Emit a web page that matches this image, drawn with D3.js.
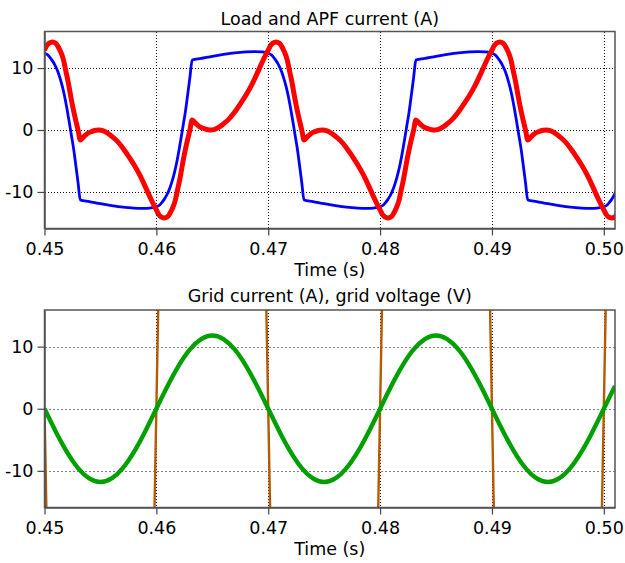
<!DOCTYPE html>
<html>
<head>
<meta charset="utf-8">
<script src="https://cdn.jsdelivr.net/npm/d3@7/dist/d3.min.js"></script>
<style>
  html, body { margin: 0; padding: 0; background: #fff; }
  svg { display: block; font-family: "DejaVu Sans", Verdana, sans-serif; }
</style>
</head>
<body>
<svg id="chart" width="625" height="563"></svg>
<script>
// ---- Data ---------------------------------------------------------------
const xTicks = [0.45, 0.46, 0.47, 0.48, 0.49, 0.50];
const yTicks = [-10, 0, 10];
const xLabel = "Time (s)";
const topTitle = "Load and APF current (A)";
const bottomTitle = "Grid current (A), grid voltage (V)";

// Load current (A): [time s, current]
const loadCurrent = [
  [0.4500,12.4],[0.4503,12.1],[0.4505,11.7],[0.4507,11.2],[0.4509,10.6],[0.4512,9.4],[0.4514,8.3],[0.4516,7.0],
  [0.4518,5.4],[0.4520,3.5],[0.4522,1.4],[0.4524,-0.8],[0.4526,-3.0],[0.4528,-5.7],[0.4530,-8.5],[0.4532,-11.3],
  [0.4540,-11.55],[0.4550,-11.9],[0.4560,-12.2],[0.4570,-12.45],[0.4580,-12.6],[0.4588,-12.65],[0.4594,-12.6],[0.4598,-12.5],
  [0.4600,-12.4],[0.4603,-12.1],[0.4605,-11.7],[0.4607,-11.2],[0.4609,-10.6],[0.4612,-9.4],[0.4614,-8.3],[0.4616,-7.0],
  [0.4618,-5.4],[0.4620,-3.5],[0.4622,-1.4],[0.4624,0.8],[0.4626,3.0],[0.4628,5.7],[0.4630,8.5],[0.4632,11.3],
  [0.4640,11.55],[0.4650,11.9],[0.4660,12.2],[0.4670,12.45],[0.4680,12.6],[0.4688,12.65],[0.4694,12.6],[0.4698,12.5],
  [0.4700,12.4],[0.4703,12.1],[0.4705,11.7],[0.4707,11.2],[0.4709,10.6],[0.4712,9.4],[0.4714,8.3],[0.4716,7.0],
  [0.4718,5.4],[0.4720,3.5],[0.4722,1.4],[0.4724,-0.8],[0.4726,-3.0],[0.4728,-5.7],[0.4730,-8.5],[0.4732,-11.3],
  [0.4740,-11.55],[0.4750,-11.9],[0.4760,-12.2],[0.4770,-12.45],[0.4780,-12.6],[0.4788,-12.65],[0.4794,-12.6],[0.4798,-12.5],
  [0.4800,-12.4],[0.4803,-12.1],[0.4805,-11.7],[0.4807,-11.2],[0.4809,-10.6],[0.4812,-9.4],[0.4814,-8.3],[0.4816,-7.0],
  [0.4818,-5.4],[0.4820,-3.5],[0.4822,-1.4],[0.4824,0.8],[0.4826,3.0],[0.4828,5.7],[0.4830,8.5],[0.4832,11.3],
  [0.4840,11.55],[0.4850,11.9],[0.4860,12.2],[0.4870,12.45],[0.4880,12.6],[0.4888,12.65],[0.4894,12.6],[0.4898,12.5],
  [0.4900,12.4],[0.4903,12.1],[0.4905,11.7],[0.4907,11.2],[0.4909,10.6],[0.4912,9.4],[0.4914,8.3],[0.4916,7.0],
  [0.4918,5.4],[0.4920,3.5],[0.4922,1.4],[0.4924,-0.8],[0.4926,-3.0],[0.4928,-5.7],[0.4930,-8.5],[0.4932,-11.3],
  [0.4940,-11.55],[0.4950,-11.9],[0.4960,-12.2],[0.4970,-12.45],[0.4980,-12.6],[0.4988,-12.65],[0.4994,-12.6],[0.4998,-12.5],
  [0.5000,-12.4],[0.5003,-12.1],[0.5005,-11.7],[0.5007,-11.2],[0.5009,-10.6],[0.5012,-9.4]
];

// APF (active power filter) current (A): [time s, current]
const apfCurrent = [
  [0.4500,12.9],[0.4502,13.6],[0.4504,14.0],[0.4507,14.2],[0.4510,14.0],[0.4512,13.5],[0.4514,12.8],[0.4517,11.3],
  [0.4519,9.6],[0.4521,7.9],[0.4524,4.9],[0.4526,3.1],[0.4528,1.5],[0.4530,0.0],[0.4532,-1.6],[0.4535,-1.1],
  [0.4538,-0.6],[0.4542,-0.25],[0.4546,-0.05],[0.4549,0.0],[0.4552,-0.1],[0.4556,-0.45],[0.4560,-1.0],[0.4565,-1.8],
  [0.4570,-2.9],[0.4575,-4.2],[0.4580,-5.6],[0.4585,-7.2],[0.4590,-9.1],[0.4595,-11.1],[0.4598,-12.2],
  [0.4600,-12.9],[0.4602,-13.6],[0.4604,-14.0],[0.4607,-14.2],[0.4610,-14.0],[0.4612,-13.5],[0.4614,-12.8],[0.4617,-11.3],
  [0.4619,-9.6],[0.4621,-7.9],[0.4624,-4.9],[0.4626,-3.1],[0.4628,-1.5],[0.4630,0.0],[0.4632,1.6],[0.4635,1.1],
  [0.4638,0.6],[0.4642,0.25],[0.4646,0.05],[0.4649,0.0],[0.4652,0.1],[0.4656,0.45],[0.4660,1.0],[0.4665,1.8],
  [0.4670,2.9],[0.4675,4.2],[0.4680,5.6],[0.4685,7.2],[0.4690,9.1],[0.4695,11.1],[0.4698,12.2],
  [0.4700,12.9],[0.4702,13.6],[0.4704,14.0],[0.4707,14.2],[0.4710,14.0],[0.4712,13.5],[0.4714,12.8],[0.4717,11.3],
  [0.4719,9.6],[0.4721,7.9],[0.4724,4.9],[0.4726,3.1],[0.4728,1.5],[0.4730,0.0],[0.4732,-1.6],[0.4735,-1.1],
  [0.4738,-0.6],[0.4742,-0.25],[0.4746,-0.05],[0.4749,0.0],[0.4752,-0.1],[0.4756,-0.45],[0.4760,-1.0],[0.4765,-1.8],
  [0.4770,-2.9],[0.4775,-4.2],[0.4780,-5.6],[0.4785,-7.2],[0.4790,-9.1],[0.4795,-11.1],[0.4798,-12.2],
  [0.4800,-12.9],[0.4802,-13.6],[0.4804,-14.0],[0.4807,-14.2],[0.4810,-14.0],[0.4812,-13.5],[0.4814,-12.8],[0.4817,-11.3],
  [0.4819,-9.6],[0.4821,-7.9],[0.4824,-4.9],[0.4826,-3.1],[0.4828,-1.5],[0.4830,0.0],[0.4832,1.6],[0.4835,1.1],
  [0.4838,0.6],[0.4842,0.25],[0.4846,0.05],[0.4849,0.0],[0.4852,0.1],[0.4856,0.45],[0.4860,1.0],[0.4865,1.8],
  [0.4870,2.9],[0.4875,4.2],[0.4880,5.6],[0.4885,7.2],[0.4890,9.1],[0.4895,11.1],[0.4898,12.2],
  [0.4900,12.9],[0.4902,13.6],[0.4904,14.0],[0.4907,14.2],[0.4910,14.0],[0.4912,13.5],[0.4914,12.8],[0.4917,11.3],
  [0.4919,9.6],[0.4921,7.9],[0.4924,4.9],[0.4926,3.1],[0.4928,1.5],[0.4930,0.0],[0.4932,-1.6],[0.4935,-1.1],
  [0.4938,-0.6],[0.4942,-0.25],[0.4946,-0.05],[0.4949,0.0],[0.4952,-0.1],[0.4956,-0.45],[0.4960,-1.0],[0.4965,-1.8],
  [0.4970,-2.9],[0.4975,-4.2],[0.4980,-5.6],[0.4985,-7.2],[0.4990,-9.1],[0.4995,-11.1],[0.4998,-12.2],
  [0.5000,-12.9],[0.5002,-13.6],[0.5004,-14.0],[0.5007,-14.2],[0.5010,-14.0],[0.5012,-13.5]
];

// Grid samples, 1 ms apart
const gridTime = [
  0.450,0.451,0.452,0.453,0.454,0.455,0.456,0.457,0.458,0.459,
  0.460,0.461,0.462,0.463,0.464,0.465,0.466,0.467,0.468,0.469,
  0.470,0.471,0.472,0.473,0.474,0.475,0.476,0.477,0.478,0.479,
  0.480,0.481,0.482,0.483,0.484,0.485,0.486,0.487,0.488,0.489,
  0.490,0.491,0.492,0.493,0.494,0.495,0.496,0.497,0.498,0.499,
  0.500,0.501
];
// Grid current (A)
const gridCurrent = [
  0,-3.65,-6.94,-9.55,-11.22,-11.8,-11.22,-9.55,-6.94,-3.65,
  0,3.65,6.94,9.55,11.22,11.8,11.22,9.55,6.94,3.65,
  0,-3.65,-6.94,-9.55,-11.22,-11.8,-11.22,-9.55,-6.94,-3.65,
  0,3.65,6.94,9.55,11.22,11.8,11.22,9.55,6.94,3.65,
  0,-3.65,-6.94,-9.55,-11.22,-11.8,-11.22,-9.55,-6.94,-3.65,
  0,3.65
];
// Grid voltage (V)
const gridVoltage = [
  0,-96.1,-182.8,-251.6,-295.8,-311,-295.8,-251.6,-182.8,-96.1,
  0,96.1,182.8,251.6,295.8,311,295.8,251.6,182.8,96.1,
  0,-96.1,-182.8,-251.6,-295.8,-311,-295.8,-251.6,-182.8,-96.1,
  0,96.1,182.8,251.6,295.8,311,295.8,251.6,182.8,96.1,
  0,-96.1,-182.8,-251.6,-295.8,-311,-295.8,-251.6,-182.8,-96.1,
  0,96.1
];

// ---- Layout -------------------------------------------------------------
const svg = d3.select("#chart");
const plotLeft = 44.5, plotRight = 615;
const fontSize = 17.5;

const x = d3.scaleLinear().domain([0.45, 0.501]).range([plotLeft, plotRight]);

const panels = [
  { id: "top", top: 31.5, bottom: 228.5, title: topTitle, titleY: 24.5, xLabelY: 276,
    hGrid: "#111", hDash: "1,2" },
  { id: "bottom", top: 310, bottom: 507.5, title: bottomTitle, titleY: 302, xLabelY: 555,
    hGrid: "#808080", hDash: "2,2" }
];

panels.forEach(p => {
  p.y = d3.scaleLinear().domain([-15.9, 15.9]).range([p.bottom, p.top]);
  const g = svg.append("g").attr("class", "panel-" + p.id);

  g.append("clipPath").attr("id", "clip-" + p.id)
    .append("rect")
    .attr("x", plotLeft).attr("y", p.top)
    .attr("width", plotRight - plotLeft).attr("height", p.bottom - p.top);

  // grid lines
  g.append("g").attr("shape-rendering", "crispEdges")
    .selectAll("line").data(xTicks.slice(1)).join("line")
    .attr("x1", d => Math.round(x(d)) + 0.5).attr("x2", d => Math.round(x(d)) + 0.5)
    .attr("y1", p.top).attr("y2", p.bottom)
    .attr("stroke", "#111").attr("stroke-width", 1).attr("stroke-dasharray", "1,2");
  g.append("g").attr("shape-rendering", "crispEdges")
    .selectAll("line").data(yTicks).join("line")
    .attr("x1", plotLeft).attr("x2", plotRight)
    .attr("y1", d => Math.round(p.y(d)) + 0.5).attr("y2", d => Math.round(p.y(d)) + 0.5)
    .attr("stroke", p.hGrid).attr("stroke-width", 1).attr("stroke-dasharray", p.hDash);

  p.plot = g.append("g").attr("clip-path", "url(#clip-" + p.id + ")");

  // frame
  g.append("rect")
    .attr("x", plotLeft).attr("y", p.top)
    .attr("width", plotRight - plotLeft).attr("height", p.bottom - p.top)
    .attr("fill", "none").attr("stroke", "#555").attr("stroke-width", 1.5);

  // axes
  const xAxis = g.append("g").attr("transform", `translate(0,${p.bottom})`)
    .call(d3.axisBottom(x).tickValues(xTicks).tickFormat(d3.format(".2f"))
      .tickSize(7).tickSizeOuter(0).tickPadding(7.5));
  const yAxis = g.append("g").attr("transform", `translate(${plotLeft},0)`)
    .call(d3.axisLeft(p.y).tickValues(yTicks).tickFormat(d => String(d))
      .tickSize(7).tickSizeOuter(0).tickPadding(4));
  [xAxis, yAxis].forEach(a => {
    a.select(".domain").attr("stroke", "#555").attr("stroke-width", 1.5);
    a.selectAll(".tick line").attr("stroke", "#444").attr("stroke-width", 1.2);
    a.selectAll(".tick text").attr("fill", "#000")
      .style("font-size", fontSize + "px").style("font-family", '"DejaVu Sans", Verdana, sans-serif');
  });

  // titles
  g.append("text").attr("x", (plotLeft + plotRight) / 2).attr("y", p.titleY)
    .attr("text-anchor", "middle").style("font-size", fontSize + "px").text(p.title);
  g.append("text").attr("x", (plotLeft + plotRight) / 2).attr("y", p.xLabelY)
    .attr("text-anchor", "middle").style("font-size", fontSize + "px").text(xLabel);
});

// ---- Top panel: load and APF currents -----------------------------------
const topP = panels[0];
const lineTop = d3.line().x(d => x(d[0])).y(d => topP.y(d[1])).curve(d3.curveMonotoneX);
topP.plot.append("path").datum(loadCurrent).attr("d", lineTop)
  .attr("fill", "none").attr("stroke", "#0000ff").attr("stroke-width", 2.8)
  .attr("stroke-linejoin", "round");
topP.plot.append("path").datum(apfCurrent).attr("d", lineTop)
  .attr("fill", "none").attr("stroke", "#ff0000").attr("stroke-width", 5)
  .attr("stroke-linejoin", "round");

// ---- Bottom panel: grid voltage and current -----------------------------
const botP = panels[1];
const gridPts = gridTime.map((t, i) => ({ t, i: gridCurrent[i], v: gridVoltage[i] }));
botP.plot.append("path").datum(gridPts)
  .attr("d", d3.line().x(d => x(d.t)).y(d => botP.y(d.v)))
  .attr("fill", "none").attr("stroke", "#b65a00").attr("stroke-width", 2.4);
botP.plot.append("path").datum(gridPts)
  .attr("d", d3.line().x(d => x(d.t)).y(d => botP.y(d.i)).curve(d3.curveNatural))
  .attr("fill", "none").attr("stroke", "#00a000").attr("stroke-width", 4.4)
  .attr("stroke-linejoin", "round");
</script>
</body>
</html>
